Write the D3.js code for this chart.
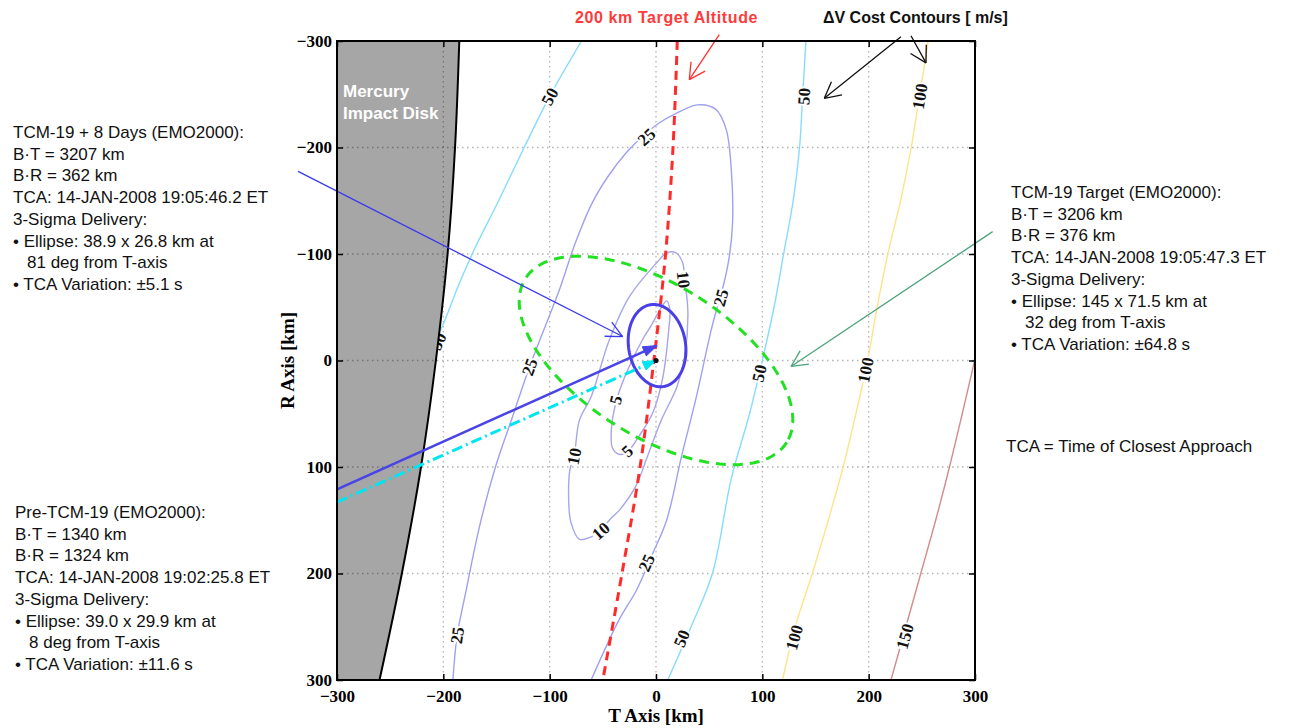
<!DOCTYPE html>
<html><head><meta charset="utf-8">
<script src="https://cdn.jsdelivr.net/npm/d3@7"></script>
<style>
body{margin:0;background:#fff;}
svg{display:block;}
</style></head><body>
<svg id="chart" width="1289" height="728"></svg>
<script>
// ---- B-plane data (T, R in km, relative to the TCM-19 target) ----
const tickValues = [-300, -200, -100, 0, 100, 200, 300];

// Delta-V cost contour lines [T, R]
const contour5 = [[10,-56],[4,-48],[-5,-32],[-13,-19],[-28,12],[-37,37],[-42,65],[-41,82],[-35,88],[-27,86],[-16,71],[-3,49],[6,18],[12,-29],[13,-48]];
const contour10 = [[-72,168],[-80,152],[-82,134],[-81,103],[-77,90],[-72,56],[-61,34],[-44,-19],[-25,-60],[0,-91],[10,-101],[19,-101],[25,-92],[27,-76],[30,-45],[27,-4],[20,24],[5,56],[-8,90],[-19,118],[-34,140],[-44,150],[-52,160],[-62,166]];
const contour25 = [[-191,300],[-187,258],[-179,218],[-166,156],[-151,100],[-135,53],[-119,6],[-105,-30],[-91,-66],[-76,-110],[-60,-148],[-45,-173],[-28,-195],[-12,-211],[3,-223],[19,-232],[39,-240],[56,-236],[66,-217],[71,-176],[72,-129],[69,-98],[64,-73],[59,-55],[52,-29],[38,34],[24,90],[10,150],[-3,181],[-18,215],[-35,244],[-61,300]];
const contour50West = [[-70,-300],[-100,-248],[-124,-200],[-148,-150],[-171,-104],[-186,-70],[-201,-32],[-215,-5],[-230,20]];
const contour50East = [[141,-300],[138,-250],[135,-200],[129,-150],[120,-100],[111,-50],[100,0],[88,50],[71,110],[53,200],[33,250],[11,300]];
const contour100 = [[256,-300],[248,-250],[240,-200],[230,-150],[218,-100],[208,-50],[199,0],[188,50],[176,100],[162,150],[147,200],[131,250],[119,300]];
const contour150 = [[302,-10],[288,50],[276,100],[263,150],[249,200],[235,250],[221,300]];

// Contour labels [level, T, R]
const contourLabels = [
  [50,-100,-248],[25,-9,-210],[50,139,-248],[100,248,-248],[10,26,-76],
  [25,61,-59],[25,-119,6],[5,-38,37],[5,-27,85],[10,-77,90],[10,-52,160],
  [25,-9,190],[25,-187,258],[50,97,12],[50,24,261],[100,197,9],
  [100,130,260],[150,234,259]
];
const hiddenLabel = [50,-205,-18];

// Mercury impact disk edge [T, R]
const diskEdge = [[-185,-300],[-189,-200],[-196,-100],[-207,0],[-221,100],[-239,200],[-260,300]];

// 200 km target altitude line [T, R]
const targetAltitude = [[20,-300],[16,-200],[9,-100],[-2,0],[-15,100],[-32,200],[-50,300]];

// 3-sigma delivery ellipses: [centre T, centre R, semi-major, semi-minor, deg from T-axis]
const targetEllipse = [0, 0, 145, 71.5, 32];
const flybyEllipse = [1, -14, 38.9, 26.8, 81];

// Trajectory arrows from the pre-TCM-19 solution
const flybyTrack = [[-300,121],[1,-14]];
const targetTrack = [[-300,133],[0,0]];

// Callout pointers [from, to]
const pointerAltitude = [[59.5,-306],[31.3,-263.7]];
const pointerCostA = [[230.4,-304],[158.3,-246.2]];
const pointerCostB = [[239.8,-304.9],[253.9,-279.5]];
const pointerFlyby = [[-336.6,-177.6],[-31.4,-22.5]];
const pointerTarget = [[316.6,-121],[127,5.6]];

// Annotation text
const flybyText = ["TCM-19 + 8 Days (EMO2000):","B\u00b7T = 3207 km","B\u00b7R = 362 km","TCA: 14-JAN-2008 19:05:46.2 ET","3-Sigma Delivery:","\u2022 Ellipse: 38.9 x 26.8 km at","  81 deg from T-axis","\u2022 TCA Variation: \u00b15.1 s"];
const targetText = ["TCM-19 Target (EMO2000):","B\u00b7T = 3206 km","B\u00b7R = 376 km","TCA: 14-JAN-2008 19:05:47.3 ET","3-Sigma Delivery:","\u2022 Ellipse: 145 x 71.5 km at","  32 deg from T-axis","\u2022 TCA Variation: \u00b164.8 s"];
const preText = ["Pre-TCM-19 (EMO2000):","B\u00b7T = 1340 km","B\u00b7R = 1324 km","TCA: 14-JAN-2008 19:02:25.8 ET","3-Sigma Delivery:","\u2022 Ellipse: 39.0 x 29.9 km at","  8 deg from T-axis","\u2022 TCA Variation: \u00b111.6 s"];

// ---- drawing ----
const svg = d3.select("#chart");
const x = d3.scaleLinear().domain([-300, 300]).range([337, 975]);
const y = d3.scaleLinear().domain([-300, 300]).range([41, 680]);
const px = d => [x(d[0]), y(d[1])];

const defs = svg.append("defs");
defs.append("clipPath").attr("id", "plotClip").append("rect")
  .attr("x", x(-300)).attr("y", y(-300))
  .attr("width", x(300) - x(-300)).attr("height", y(300) - y(-300));

const diskPoly = [[-300,-300], ...diskEdge, [-300,300]];
const diskLine = d3.line().x(d => x(d[0])).y(d => y(d[1])).curve(d3.curveLinear);
defs.append("clipPath").attr("id", "diskClip").append("path").attr("d", diskLine(diskPoly));

const plot = svg.append("g").attr("clip-path", "url(#plotClip)");

function drawGrid(g, color, opacity) {
  const inner = tickValues.filter(v => v > -300 && v < 300);
  inner.forEach(v => {
    g.append("line").attr("x1", x(v)).attr("x2", x(v)).attr("y1", y(-300)).attr("y2", y(300));
    g.append("line").attr("x1", x(-300)).attr("x2", x(300)).attr("y1", y(v)).attr("y2", y(v));
  });
  g.selectAll("line").attr("stroke", color).attr("stroke-opacity", opacity)
    .attr("stroke-width", 1.3).attr("stroke-dasharray", "1.5,3.5");
}
drawGrid(plot.append("g"), "#000", 0.3);

// contours
const smooth = d3.line().x(d => x(d[0])).y(d => y(d[1])).curve(d3.curveCatmullRom.alpha(0.5));
const smoothClosed = d3.line().x(d => x(d[0])).y(d => y(d[1])).curve(d3.curveCatmullRomClosed.alpha(0.5));
const contourSet = [
  {pts: contour5, closed: true, color: "#aaa4e4"},
  {pts: contour10, closed: true, color: "#a6a6ea"},
  {pts: contour25, closed: false, color: "#a0a0f2"},
  {pts: contour50West, closed: false, color: "#86dcff"},
  {pts: contour50East, closed: false, color: "#86dcff"},
  {pts: contour100, closed: false, color: "#ffe38a"},
  {pts: contour150, closed: false, color: "#d38b8b"}
];
const cg = plot.append("g");
contourSet.forEach(c => {
  cg.append("path").attr("d", (c.closed ? smoothClosed : smooth)(c.pts))
    .attr("fill", "none").attr("stroke", c.color).attr("stroke-width", 1.4);
});

// label orientation follows the nearest contour segment
const allContours = [contour5, contour10, contour25, contour50West, contour50East, contour100, contour150];
function labelAngle(T, R) {
  let best = null, bd = Infinity;
  allContours.forEach(pts => {
    pts.forEach((p, i) => {
      const dd = (p[0]-T)**2 + (p[1]-R)**2;
      if (dd < bd) { bd = dd; best = {pts, i}; }
    });
  });
  const pts = best.pts, i = best.i;
  const a = px(pts[Math.max(0, i-1)]), b = px(pts[Math.min(pts.length-1, i+1)]);
  let ang = Math.atan2(b[1]-a[1], b[0]-a[0]) * 180 / Math.PI;
  if (ang > 90) ang -= 180;
  if (ang < -90) ang += 180;
  return ang;
}
function drawLabel(g, d) {
  const p = px([d[1], d[2]]);
  g.append("text").attr("transform", `translate(${p[0]},${p[1]}) rotate(${labelAngle(d[1], d[2])})`)
    .attr("text-anchor", "middle").attr("dy", "0.35em")
    .attr("font-family", "'Liberation Serif','Times New Roman',serif")
    .attr("font-weight", "bold").attr("font-size", 17).attr("fill", "#111")
    .attr("stroke", "#fff").attr("stroke-width", 4).attr("paint-order", "stroke")
    .text(d[0]);
}
// the level label that sits on the disk edge is drawn first so the disk covers part of it
drawLabel(plot.append("g"), hiddenLabel);

// Mercury impact disk
plot.append("path").attr("d", diskLine(diskPoly)).attr("fill", "#a6a6a6");
plot.append("path").attr("d", smooth(diskEdge)).attr("fill", "none")
  .attr("stroke", "#000").attr("stroke-width", 2);
drawGrid(plot.append("g").attr("clip-path", "url(#diskClip)"), "#000", 0.3);

const lg = plot.append("g");
contourLabels.forEach(d => drawLabel(lg, d));

// 200 km target altitude
plot.append("path").attr("d", smooth(targetAltitude)).attr("fill", "none")
  .attr("stroke", "#ff2a2a").attr("stroke-width", 3).attr("stroke-dasharray", "9,6");

// ellipses
function ellipsePoints(e) {
  const [cT, cR, a, b, deg] = e, th = deg * Math.PI / 180;
  return d3.range(0, 361, 3).map(t => {
    const u = t * Math.PI / 180;
    return [cT + a*Math.cos(u)*Math.cos(th) - b*Math.sin(u)*Math.sin(th),
            cR + a*Math.cos(u)*Math.sin(th) + b*Math.sin(u)*Math.cos(th)];
  });
}
const straight = d3.line().x(d => x(d[0])).y(d => y(d[1]));
plot.append("path").attr("d", straight(ellipsePoints(targetEllipse))).attr("fill", "none")
  .attr("stroke", "#22e022").attr("stroke-width", 3).attr("stroke-dasharray", "10,7");
plot.append("path").attr("d", straight(ellipsePoints(flybyEllipse))).attr("fill", "none")
  .attr("stroke", "#4a3fe6").attr("stroke-width", 3);

// trajectory arrows
function solidHead(g, a, b, color, len, w) {
  const ang = Math.atan2(b[1]-a[1], b[0]-a[0]);
  const bx = b[0] - len*Math.cos(ang), by = b[1] - len*Math.sin(ang);
  const nx = -Math.sin(ang)*w/2, ny = Math.cos(ang)*w/2;
  g.append("path").attr("d", `M${b[0]},${b[1]}L${bx+nx},${by+ny}L${bx-nx},${by-ny}Z`)
    .attr("fill", color).attr("stroke", color).attr("stroke-width", 1);
}
const tg = svg.append("g");
{
  const a = px(targetTrack[0]), b = px(targetTrack[1]);
  tg.append("path").attr("d", straight(targetTrack)).attr("stroke", "#00e6f0")
    .attr("stroke-width", 3).attr("stroke-dasharray", "11,4,2,4").attr("fill", "none");
  solidHead(tg, a, b, "#00e6f0", 13, 9);
  const a2 = px(flybyTrack[0]), b2 = px(flybyTrack[1]);
  tg.append("path").attr("d", straight(flybyTrack)).attr("stroke", "#4a44e8")
    .attr("stroke-width", 2.6).attr("fill", "none");
  solidHead(tg, a2, b2, "#4a44e8", 14, 10);
  tg.append("circle").attr("cx", x(0)).attr("cy", y(0)).attr("r", 2.6).attr("fill", "#111");
}

// callout pointers with open heads
function pointer(seg, color, width, len, half) {
  const a = px(seg[0]), b = px(seg[1]);
  const g = svg.append("g").attr("stroke", color).attr("stroke-width", width).attr("fill", "none");
  g.append("line").attr("x1", a[0]).attr("y1", a[1]).attr("x2", b[0]).attr("y2", b[1]);
  const ang = Math.atan2(a[1]-b[1], a[0]-b[0]);
  [-1, 1].forEach(s => {
    const t = ang + s * half * Math.PI / 180;
    g.append("line").attr("x1", b[0]).attr("y1", b[1])
      .attr("x2", b[0] + len*Math.cos(t)).attr("y2", b[1] + len*Math.sin(t));
  });
}
pointer(pointerAltitude, "#ff3030", 1.3, 18, 28);
pointer(pointerCostA, "#111", 1.3, 18, 28);
pointer(pointerCostB, "#111", 1.3, 18, 30);
pointer(pointerFlyby, "#3a3af0", 1.3, 18, 26);
pointer(pointerTarget, "#4aa37a", 1.3, 18, 26);

// plot frame and axes
svg.append("rect").attr("x", x(-300)).attr("y", y(-300))
  .attr("width", x(300) - x(-300)).attr("height", y(300) - y(-300))
  .attr("fill", "none").attr("stroke", "#000").attr("stroke-width", 2);

const fmt = d => d < 0 ? "\u2212" + Math.abs(d) : String(d);
function styleAxis(g, labels) {
  g.select(".domain").remove();
  g.selectAll(".tick line").attr("stroke", "#000").attr("stroke-width", 1.5);
  g.selectAll(".tick text").attr("font-family", "'Liberation Serif','Times New Roman',serif")
    .attr("font-weight", "bold").attr("font-size", 17).attr("fill", "#000");
  if (!labels) g.selectAll(".tick text").remove();
}
svg.append("g").attr("transform", `translate(0,${y(300)})`)
  .call(d3.axisBottom(x).tickValues(tickValues).tickFormat(fmt).tickSizeInner(-6).tickSizeOuter(0).tickPadding(10))
  .call(g => styleAxis(g, true));
svg.append("g").attr("transform", `translate(${x(-300)},0)`)
  .call(d3.axisLeft(y).tickValues(tickValues).tickFormat(fmt).tickSizeInner(-6).tickSizeOuter(0).tickPadding(5))
  .call(g => styleAxis(g, true));
svg.append("g").attr("transform", `translate(0,${y(-300)})`)
  .call(d3.axisTop(x).tickValues(tickValues).tickSizeInner(-6).tickSizeOuter(0))
  .call(g => styleAxis(g, false));
svg.append("g").attr("transform", `translate(${x(300)},0)`)
  .call(d3.axisRight(y).tickValues(tickValues).tickSizeInner(-6).tickSizeOuter(0))
  .call(g => styleAxis(g, false));

const serif = "'Liberation Serif','Times New Roman',serif";
const sans = "'Liberation Sans',Arial,Helvetica,sans-serif";
svg.append("text").attr("x", x(0)).attr("y", 722).attr("text-anchor", "middle")
  .attr("font-family", serif).attr("font-weight", "bold").attr("font-size", 19).text("T Axis [km]");
svg.append("text").attr("transform", `translate(294,${y(0)}) rotate(-90)`).attr("text-anchor", "middle")
  .attr("font-family", serif).attr("font-weight", "bold").attr("font-size", 19).text("R Axis [km]");

// disk caption
svg.append("text").attr("x", 343).attr("y", 97).attr("fill", "#fff").attr("font-family", sans)
  .attr("font-weight", "bold").attr("font-size", 17)
  .selectAll("tspan").data(["Mercury", "Impact Disk"]).join("tspan")
  .attr("x", 343).attr("dy", (d, i) => i ? 21.5 : 0).text(d => d);

// headings
svg.append("text").attr("x", 575).attr("y", 22.5).attr("fill", "#ff3b3b").attr("font-family", sans)
  .attr("font-weight", "bold").attr("font-size", 16).attr("letter-spacing", 0.6).text("200 km Target Altitude");
svg.append("text").attr("x", 823).attr("y", 22.5).attr("fill", "#111").attr("font-family", sans)
  .attr("font-weight", "bold").attr("font-size", 16).text("\u0394V Cost Contours [ m/s]");

// annotation blocks
function block(lines, x0, y0) {
  const t = svg.append("text").attr("font-family", sans).attr("font-size", 17).attr("fill", "#111");
  lines.forEach((s, i) => {
    const indent = s.startsWith("  ");
    t.append("tspan").attr("x", x0 + (indent ? 14 : 0)).attr("y", y0 + i * 21.7).text(s.trim());
  });
}
block(flybyText, 13, 138);
block(targetText, 1011, 198);
block(preText, 15, 518);
svg.append("text").attr("x", 1006).attr("y", 451.5).attr("font-family", sans).attr("font-size", 17)
  .attr("fill", "#111").text("TCA = Time of Closest Approach");
</script></body></html>
